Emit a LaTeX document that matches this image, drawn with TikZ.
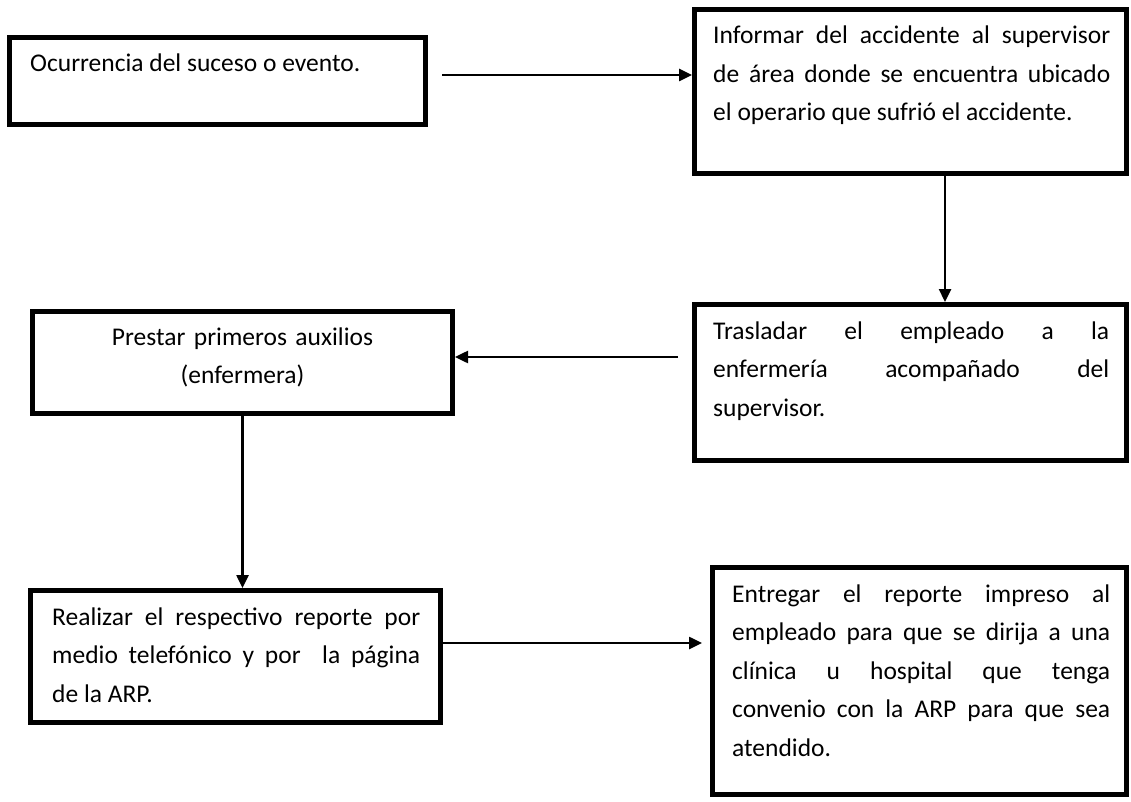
\documentclass[tikz,border=0pt]{standalone}
\usepackage{fontspec}
\setmainfont{Carlito}
\usepackage{tikz}
\usetikzlibrary{calc,positioning,arrows.meta}
\tolerance=10000
\hyphenpenalty=10000

\begin{document}
\begin{tikzpicture}[%
      x=1pt, y=1pt,                           % one unit is one pixel
      >={Triangle[length=13pt,width=12pt]},   % Small filled heads
      ]
  \tikzset{
    box/.style={draw, line width=5pt, rectangle, inner sep=0pt, anchor=north west},
    txt/.style={inner sep=0pt, anchor=base west, align=justify,
                font=\fontsize{25.5}{38.5}\selectfont},
    norm/.style={->, draw, line width=2.5pt},
  }
  \useasboundingbox (0,0) rectangle (1131,-802);

  % Define the boxes
  \node [box, minimum width=416pt, minimum height=87pt]  (suceso)    at (7,-35)   {};
  \node [box, minimum width=432pt, minimum height=164pt] (informar)  at (692,-7)  {};
  \node [box, minimum width=432pt, minimum height=156pt] (trasladar) at (692,-302) {};
  \node [box, minimum width=420pt, minimum height=102pt] (auxilios)  at (30,-309)  {};
  \node [box, minimum width=410pt, minimum height=132pt] (reporte)   at (28,-588)  {};
  \node [box, minimum width=414pt, minimum height=227pt] (entregar)  at (710,-565) {};

  % Texts in the boxes
  \node [txt] (suceso-t) at ($(suceso.north west)+(23,-37)$)
    {Ocurrencia del suceso o evento.};
  \node [txt, text width=397pt] (informar-t) at ($(informar.north west)+(21,-37)$)
    {Informar del accidente al supervisor\linebreak
     de área donde se encuentra ubicado\linebreak
     el operario que sufrió el accidente.};
  \node [txt, text width=396pt] (trasladar-t) at ($(trasladar.north west)+(21,-37)$)
    {Trasladar el empleado a la\linebreak
     enfermería acompañado del\linebreak
     supervisor.};
  \node [txt, anchor=base, text width=400pt, align=center] (auxilios-t) at ($(auxilios.north)+(0,-36)$)
    {Prestar primeros auxilios\\(enfermera)};
  \node [txt, text width=368pt] (reporte-t) at ($(reporte.north west)+(24,-37)$)
    {Realizar el respectivo reporte por\linebreak
     medio telefónico y por \ la página\linebreak
     de la ARP.};
  \node [txt, text width=378pt] (entregar-t) at ($(entregar.north west)+(22,-37)$)
    {Entregar el reporte impreso al\linebreak
     empleado para que se dirija a una\linebreak
     clínica u hospital que tenga\linebreak
     convenio con la ARP para que sea\linebreak
     atendido.};

  % Flow
  \draw [norm] ([xshift=14pt,yshift=6pt]suceso.east) -- ([yshift=6pt]suceso.east -| informar.west);
  \draw [norm] ([xshift=34.5pt]informar.south) -- ([xshift=34.5pt]informar.south |- trasladar.north);
  \draw [norm] ([xshift=-14pt,yshift=25.5pt]trasladar.west) -- ([yshift=25.5pt]trasladar.west -| auxilios.east);
  \draw [norm] (auxilios.south) -- (auxilios.south |- reporte.north);
  \draw [norm] ([yshift=13.5pt]reporte.east) -- ([xshift=-8pt,yshift=13.5pt]reporte.east -| entregar.west);

\end{tikzpicture}
\end{document}
